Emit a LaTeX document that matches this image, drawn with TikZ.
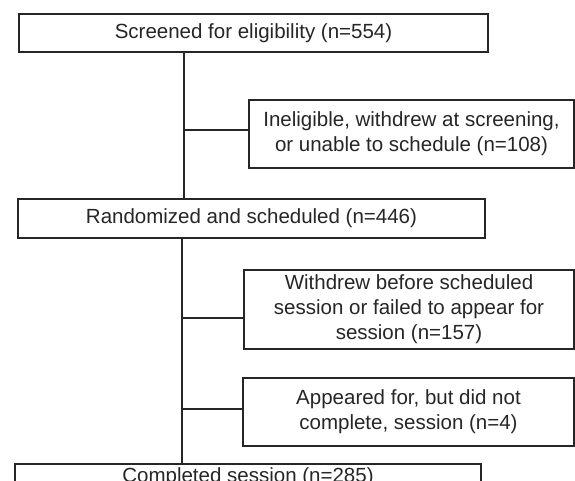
\documentclass[tikz,border=0pt]{standalone}
\usepackage{fontspec}
\setmainfont{Liberation Sans}
\begin{document}
\begin{tikzpicture}[x=1pt,y=-1pt,
  box/.style={draw=black!85, line width=1.3pt, fill=white, inner sep=0pt, align=center,
    font=\fontsize{20.5}{25}\selectfont, text=black!85},
  link/.style={draw=black!85, line width=1.3pt}]
\path[clip, use as bounding box] (0,0) rectangle (575,481);
\fill[white] (0,0) rectangle (575,481);
\node[box, minimum width=469, minimum height=38] (b1) at (253.5,33) {Screened for eligibility (n=554)};
\node[box, minimum width=325, minimum height=68] (b2) at (411.5,134) {Ineligible, withdrew at screening,\\or unable to schedule (n=108)};
\node[box, minimum width=467, minimum height=39] (b3) at (251.5,218.5) {Randomized and scheduled (n=446)};
\node[box, minimum width=330, minimum height=79] (b4) at (409,309.5) {Withdrew before scheduled\\session or failed to appear for\\session (n=157)};
\node[box, minimum width=331, minimum height=68] (b5) at (408.5,412) {Appeared for, but did not\\complete, session (n=4)};
\node[box, minimum width=466, minimum height=27] (b6) at (248,477.5) {Completed session (n=285)};
\coordinate (j1) at (184,130);
\coordinate (j2) at (182,318);
\coordinate (j3) at (182,409);
\draw[link] (b1.south -| j1) -- (b3.north -| j1);
\draw[link] (j1) -- (j1 -| b2.west);
\draw[link] (b3.south -| j2) -- (b6.north -| j2);
\draw[link] (j2) -- (j2 -| b4.west);
\draw[link] (j3) -- (j3 -| b5.west);
\end{tikzpicture}
\end{document}
